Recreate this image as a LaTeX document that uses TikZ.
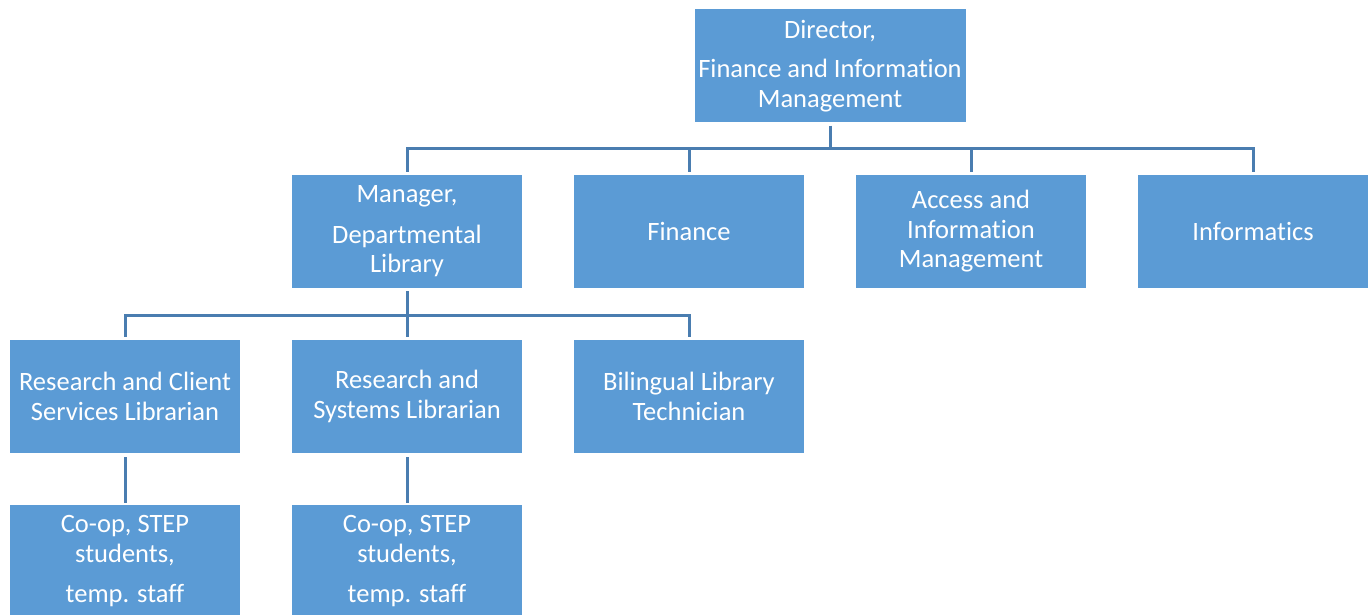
\documentclass[tikz,border=0pt]{standalone}
\usepackage{fontspec}
\setmainfont{Carlito}[Ligatures=NoCommon]
\definecolor{boxblue}{HTML}{5B9BD5}
\definecolor{lineblue}{HTML}{4A7DB0}
\begin{document}
\begin{tikzpicture}[x=1pt,y=-1pt,
  orgbox/.style={fill=boxblue, draw=none, text=white, minimum width=230pt, minimum height=113pt,
    inner sep=0pt, align=center, font=\fontsize{26.5}{29.5}\selectfont},
  conn/.style={draw=lineblue, line width=3pt}]
\useasboundingbox (0,0) rectangle (1372,615);
\clip (0,0) rectangle (1372,615);
% nodes
\node[orgbox, minimum width=271pt] (dir) at (830,66) {Director,\\[10pt]Finance and Information\\Management};
\node[orgbox] (mgr) at (407,231.5) {Manager,\\[11pt]Departmental\\Library};
\node[orgbox] (fin) at (689,231.5) {Finance};
\node[orgbox] (acc) at (971,231.5) {Access and\\Information\\Management};
\node[orgbox] (inf) at (1253,231.5) {Informatics};
\node[orgbox] (rcs) at (125,396.5) {Research and Client\\Services Librarian};
\node[orgbox] (rsl) at (407,396.5) {Research and\\Systems Librarian};
\node[orgbox] (blt) at (689,396.5) {Bilingual Library\\Technician};
\node[orgbox] (coa) at (125,561.5) {Co-op, STEP\\students,\\[11pt]temp. staff};
\node[orgbox] (cob) at (407,561.5) {Co-op, STEP\\students,\\[11pt]temp. staff};
% bus coordinates
\coordinate (b1) at (830,148);
\coordinate (b2) at (407,315);
% connectors level 1
\draw[conn, shorten <=3pt] (dir.south) -- (b1);
\draw[conn, line cap=rect] (mgr.north |- b1) -- (inf.north |- b1);
\foreach \n in {mgr,fin,acc,inf}{
  \draw[conn, shorten >=3pt] (\n.north |- b1) -- (\n.north);
}
% connectors level 2
\draw[conn, shorten <=3pt] (mgr.south) -- (b2);
\draw[conn, line cap=rect] (rcs.north |- b2) -- (blt.north |- b2);
\foreach \n in {rcs,rsl,blt}{
  \draw[conn, shorten >=3pt] (\n.north |- b2) -- (\n.north);
}
% connectors level 3
\draw[conn, shorten <=4pt, shorten >=2pt] (rcs.south) -- (coa.north);
\draw[conn, shorten <=4pt, shorten >=2pt] (rsl.south) -- (cob.north);
\end{tikzpicture}
\end{document}
